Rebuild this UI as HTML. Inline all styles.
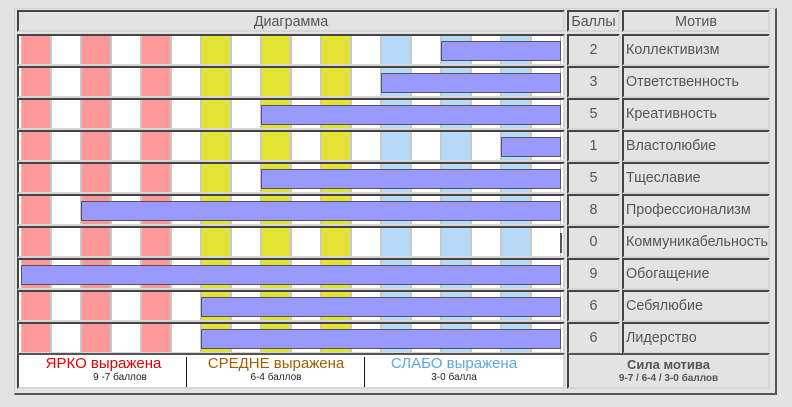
<!DOCTYPE html>
<html><head><meta charset="utf-8"><style>
body{margin:0;width:792px;height:407px;background:#e3e3e3;position:relative;font-family:"Liberation Sans",sans-serif;overflow:hidden}
.panel{position:absolute;left:14px;top:8px;width:760px;height:384px;border-right:2px solid #555;border-bottom:2px solid #555;border-top:1px solid #d0d0d0;border-left:1px solid #d0d0d0}
.c{position:absolute;box-sizing:border-box;border-top:2px solid #444;border-left:2px solid #444;border-right:2px solid #d6d6d6;border-bottom:2px solid #d6d6d6;color:#555;font-size:14.3px}
.h{text-align:center;line-height:20px}
.st{position:absolute;top:0;bottom:0;width:30px;box-sizing:border-box;border-left:1px solid #c8c8c8;border-right:1px solid #c8c8c8}
.bar{position:absolute;height:20px;top:5px;background:#9999ff;border:1px solid #555;box-sizing:border-box}
.num{text-align:center;line-height:28px}
.mot{padding-left:2px;line-height:28px;white-space:nowrap}
</style></head><body>
<div class="panel"></div>
<div class="c h" style="left:17px;top:10px;width:548px;height:22px">Диаграмма</div>
<div class="c h" style="left:567px;top:10px;width:53px;height:22px">Баллы</div>
<div class="c h" style="left:622px;top:10px;width:148px;height:22px">Мотив</div>
<div id="rows"></div>
<div class="c" style="left:17px;top:353px;width:548px;height:36px;background:#fff;border-top-color:#555"></div>
<div style="position:absolute;left:20px;top:356px;width:167px;text-align:center;font-size:15px;color:#e00;line-height:16px">ЯРКО <span style="color:#d00">выражена</span></div>
<div style="position:absolute;left:20px;top:372px;width:200px;text-align:center;font-size:10px;color:#222">9 -7 баллов</div>
<div style="position:absolute;left:186px;top:357px;width:1px;height:30px;background:#111"></div>
<div style="position:absolute;left:187px;top:356px;width:178px;text-align:center;font-size:15px;color:#a06000;line-height:16px">СРЕДНЕ выражена</div>
<div style="position:absolute;left:187px;top:372px;width:178px;text-align:center;font-size:10px;color:#222">6-4 баллов</div>
<div style="position:absolute;left:364px;top:357px;width:1px;height:30px;background:#111"></div>
<div style="position:absolute;left:365px;top:356px;width:178px;text-align:center;font-size:15px;color:#5aa7e8;line-height:16px">СЛАБО выражена</div>
<div style="position:absolute;left:365px;top:372px;width:178px;text-align:center;font-size:10px;color:#222">3-0 балла</div>
<div class="c" style="left:567px;top:353px;width:203px;height:36px;text-align:center;border-top-color:#555">
<div style="font-weight:bold;font-size:13px;line-height:16px;margin-top:2px">Сила мотива</div>
<div style="font-weight:bold;font-size:10px;line-height:12px">9-7 / 6-4 / 3-0 баллов</div></div>
<script>
var d=[[2,"Коллективизм"],[3,"Ответственность"],[5,"Креативность"],[1,"Властолюбие"],[5,"Тщеславие"],[8,"Профессионализм"],[0,"Коммуникабельность"],[9,"Обогащение"],[6,"Себялюбие"],[6,"Лидерство"]];
var h="";
d.forEach(function(r,i){var t=34+i*32;
h+='<div class="c" style="left:17px;top:'+t+'px;width:548px;height:32px;background:#fff;overflow:hidden">';
for(var k=0;k<18;k++){var col=k%2?"#fff":(k<6?"#ff9999":k<12?"#e3e333":"#b6d9f7");
h+='<div class="st" style="left:'+(2+k*30)+'px;background:'+col+'"></div>';}
if(r[0]>0)h+='<div class="bar" style="left:'+(542-60*r[0])+'px;width:'+(60*r[0])+'px"></div>';
else h+='<div style="position:absolute;left:541px;top:5px;width:2px;height:20px;background:#555"></div>';
h+='</div>';
h+='<div class="c num" style="left:567px;top:'+t+'px;width:53px;height:32px">'+r[0]+'</div>';
h+='<div class="c mot" style="left:622px;top:'+t+'px;width:148px;height:32px">'+r[1]+'</div>';});
document.getElementById("rows").innerHTML=h;
</script>
</body></html>
